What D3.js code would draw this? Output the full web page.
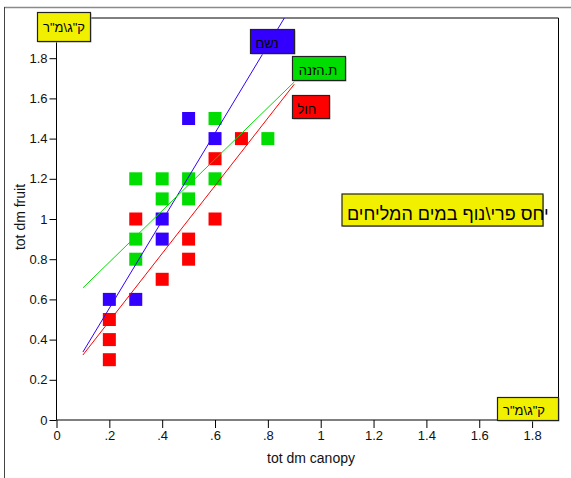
<!DOCTYPE html>
<html>
<head>
<meta charset="utf-8">
<script src="https://cdn.jsdelivr.net/npm/d3@7"></script>
<style>
  html, body { margin: 0; padding: 0; background: #fff; }
  svg { display: block; font-family: "Liberation Sans", Arial, sans-serif; }
</style>
</head>
<body>
<svg id="chart" width="571" height="478"></svg>
<script>
// Axis ticks
const xTickValues = [0, 0.2, 0.4, 0.6, 0.8, 1.0, 1.2, 1.4, 1.6, 1.8];
const xTickLabels = ["0", ".2", ".4", ".6", ".8", "1", "1.2", "1.4", "1.6", "1.8"];
const yTickValues = [0, 0.2, 0.4, 0.6, 0.8, 1.0, 1.2, 1.4, 1.6, 1.8];
const yTickLabels = ["0", "0.2", "0.4", "0.6", "0.8", "1", "1.2", "1.4", "1.6", "1.8"];

// Treatments
const seriesNames = ["נשם", "ת.הזנה", "חול"];

// Canopy (x) and fruit (y) dry matter per treatment
const neshamX = [0.2, 0.3, 0.4, 0.4, 0.5, 0.6];
const neshamY = [0.6, 0.6, 1.0, 0.9, 1.5, 1.4];
const hazanaX = [0.3, 0.4, 0.5, 0.6, 0.6, 0.4, 0.5, 0.3, 0.3, 0.8];
const hazanaY = [1.2, 1.2, 1.2, 1.5, 1.2, 1.1, 1.1, 0.9, 0.8, 1.4];
const cholX = [0.2, 0.2, 0.2, 0.3, 0.4, 0.5, 0.5, 0.6, 0.6, 0.7];
const cholY = [0.5, 0.4, 0.3, 1.0, 0.7, 0.9, 0.8, 1.0, 1.3, 1.4];

// Linear fits per treatment: y = a + b*x, drawn over the x range below
const fitIntercept = [0.12, 0.529, 0.155];
const fitSlope = [2.18, 1.281, 1.684];
const fitRange = [0.1, 0.9];

const unitsLabel = "ק\"ג\\מ\"ר";
const titleLabel = "יחס פרי\\נוף במים המליחים";
const xTitle = "tot dm canopy";
const yTitle = "tot dm fruit";

const colors = ["#3300ff", "#00dd00", "#ff0000"];
const seriesX = [neshamX, hazanaX, cholX];
const seriesY = [neshamY, hazanaY, cholY];

const svg = d3.select("#chart");
const W = 571, H = 478;
const plot = { left: 56.5, right: 558.5, top: 18, bottom: 420 };

const x = d3.scaleLinear().domain([0, 1.9]).range([plot.left, plot.right]);
const y = d3.scaleLinear().domain([0, 2.0]).range([plot.bottom, plot.top]);

svg.append("rect").attr("width", W).attr("height", H).attr("fill", "#fff");

// outer frame
svg.append("line").attr("x1", 4).attr("x2", W).attr("y1", 7.5).attr("y2", 7.5)
  .attr("stroke", "#8a8a8a").attr("stroke-width", 1.5);
svg.append("line").attr("x1", 4.5).attr("x2", 4.5).attr("y1", 7).attr("y2", H)
  .attr("stroke", "#444").attr("stroke-width", 1);

// plot frame (top and right)
svg.append("path")
  .attr("d", `M${plot.left},${plot.top}H${plot.right}V${plot.bottom}`)
  .attr("fill", "none").attr("stroke", "#000").attr("stroke-width", 1);

svg.append("clipPath").attr("id", "plotClip").append("rect")
  .attr("x", plot.left).attr("y", plot.top)
  .attr("width", plot.right - plot.left).attr("height", plot.bottom - plot.top);

// axes
const xAxis = d3.axisBottom(x).tickValues(xTickValues).tickSize(8).tickPadding(3)
  .tickFormat((d, i) => xTickLabels[i]);
const yAxis = d3.axisLeft(y).tickValues(yTickValues).tickSize(7).tickPadding(2)
  .tickFormat((d, i) => yTickLabels[i]);

const gx = svg.append("g").attr("transform", `translate(0,${plot.bottom})`).call(xAxis);
const gy = svg.append("g").attr("transform", `translate(${plot.left},0)`).call(yAxis);
[gx, gy].forEach(g => {
  g.select(".domain").attr("stroke", "#000");
  g.selectAll(".tick line").attr("stroke", "#000");
  g.selectAll(".tick text").attr("fill", "#111").style("font-size", "13px")
    .style("font-family", "'Liberation Sans', Arial, sans-serif");
});
gx.select(".domain").attr("d", `M${plot.left},0H${plot.right}`);
gy.select(".domain").attr("d", `M0,${plot.bottom}V${plot.top}`);

// axis titles
svg.append("text").attr("x", 311).attr("y", 463).attr("text-anchor", "middle")
  .attr("font-size", 14).attr("fill", "#111").text(xTitle);
svg.append("text").attr("transform", "translate(25,217) rotate(-90)")
  .attr("text-anchor", "middle").attr("font-size", 14).attr("fill", "#111").text(yTitle);

// points
const pts = svg.append("g").attr("clip-path", "url(#plotClip)");
const S = 13;
seriesX.forEach((xs, s) => {
  const data = xs.map((v, i) => [v, seriesY[s][i]]);
  pts.selectAll(null).data(data).enter().append("rect")
    .attr("x", d => x(d[0]) - S / 2)
    .attr("y", d => y(d[1]) - S / 2)
    .attr("width", S).attr("height", S)
    .attr("fill", colors[s]);
});

// fit lines
const lineGen = d3.line().x(d => x(d[0])).y(d => y(d[1]));
fitIntercept.forEach((a, s) => {
  const b = fitSlope[s];
  const data = fitRange.map(v => [v, a + b * v]);
  pts.append("path").attr("d", lineGen(data))
    .attr("fill", "none").attr("stroke", colors[s]).attr("stroke-width", 1);
});

// labelled box helper
function labelBox(bx, by, bw, bh, fill, text, tx, ty, fs, anchor) {
  const g = svg.append("g");
  g.append("rect").attr("x", bx + 1).attr("y", by + 1).attr("width", bw).attr("height", bh)
    .attr("fill", "#bbb");
  g.append("rect").attr("x", bx).attr("y", by).attr("width", bw).attr("height", bh)
    .attr("fill", fill).attr("stroke", "#222").attr("stroke-width", 1.2);
  g.append("text").attr("x", tx).attr("y", ty).attr("text-anchor", anchor || "middle")
    .attr("font-size", fs).attr("fill", "#000").text(text);
  return g;
}

// series labels
labelBox(250.5, 29.5, 44, 24, colors[0], seriesNames[0], 267, 48, 13);
labelBox(292.5, 56.5, 53, 24, colors[1], seriesNames[1], 318, 75, 13);
labelBox(292.5, 95.5, 37, 23, colors[2], seriesNames[2], 307, 114, 13);

// units and title boxes
labelBox(37.5, 12.5, 53, 29, "#f0f000", unitsLabel, 64, 32, 13);
labelBox(497.5, 397.5, 61, 23, "#f0f000", unitsLabel, 524, 415, 13);
labelBox(342, 194, 201, 32, "#f0f000", titleLabel, 347, 219.5, 18, "start");
</script>
</body>
</html>
